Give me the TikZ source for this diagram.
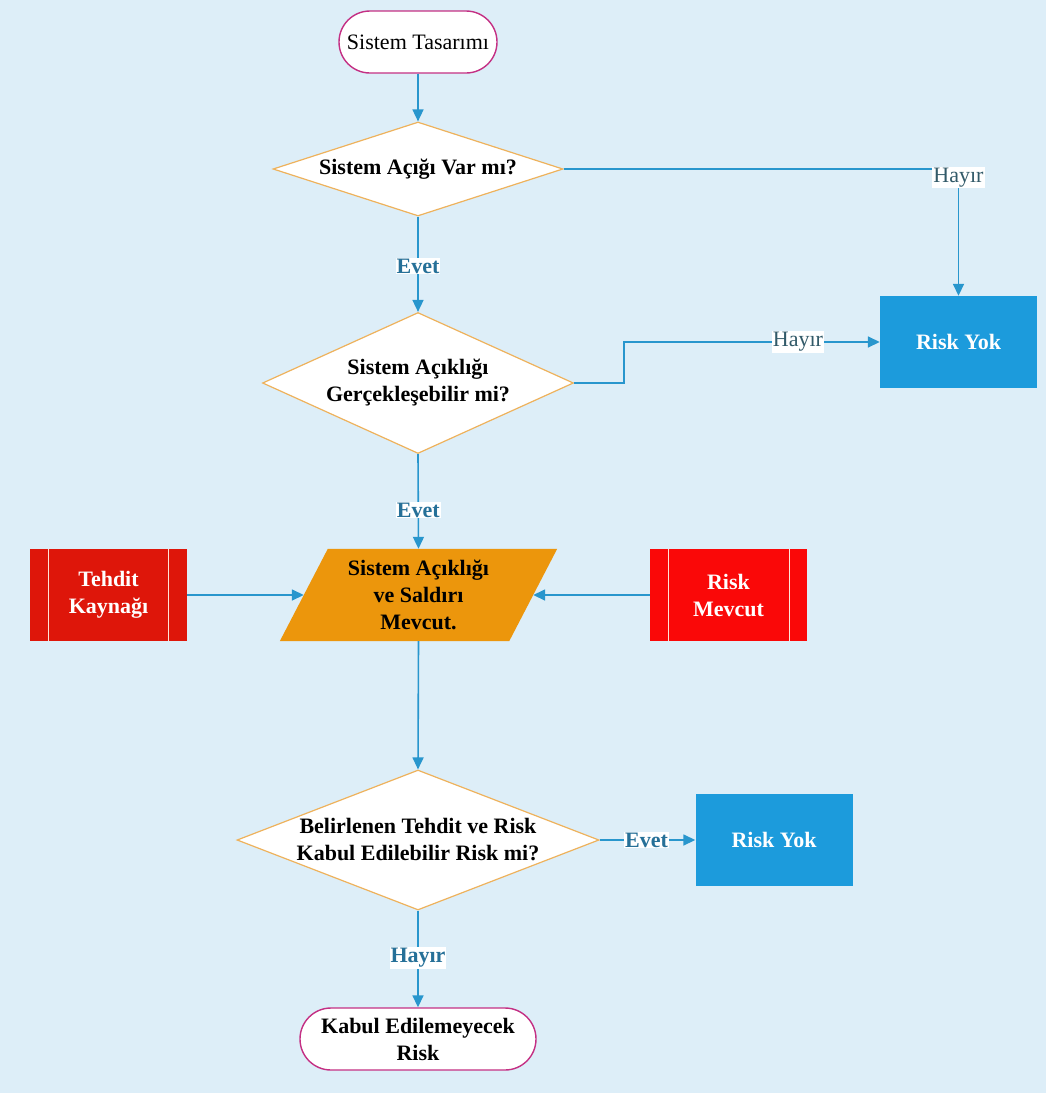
\documentclass[tikz,border=0pt]{standalone}
\usepackage{fontspec}
\setmainfont{Liberation Serif}
\usetikzlibrary{shapes.geometric,arrows.meta}
\pgfdeclarelayer{back}
\pgfdeclarelayer{mid}
\pgfsetlayers{back,mid,main}
\definecolor{bgblue}{RGB}{221,238,248}
\definecolor{conn}{RGB}{40,150,205}
\definecolor{lblboldc}{RGB}{38,112,152}
\definecolor{lblplainc}{RGB}{50,90,105}
\definecolor{diamedge}{RGB}{238,178,92}
\definecolor{termedge}{RGB}{196,48,132}
\definecolor{riskblue}{RGB}{28,155,220}
\definecolor{darkred}{RGB}{222,22,10}
\definecolor{brightred}{RGB}{250,8,8}
\definecolor{paraorange}{RGB}{236,150,12}
\definecolor{stripe}{RGB}{255,228,215}
\begin{document}
\begin{tikzpicture}[x=1pt,y=-1pt,
  fnt/.style={font=\fontsize{22}{27}\selectfont},
  fntb/.style={font=\fontsize{22}{27}\selectfont\bfseries},
  terminal/.style={rectangle, rounded corners=31pt, draw=termedge, line width=1.4pt, fill=white, inner sep=0pt, minimum height=62pt, align=center},
  decision/.style={fntb, diamond, draw=diamedge, line width=1.2pt, fill=white, inner sep=0pt, align=center},
  riskbox/.style={fntb, rectangle, fill=riskblue, text=white, minimum width=157pt, minimum height=92pt, align=center},
  redbox/.style={fntb, rectangle, text=white, minimum width=157pt, minimum height=92pt, align=center},
  parabody/.style={fntb, rectangle, minimum width=229pt, minimum height=92pt, inner sep=0pt, align=center},
  stripeline/.style={draw=stripe, line width=1.2pt},
  arr/.style={draw=conn, line width=1.6pt, -{Triangle[length=12pt,width=11pt]}},
  lblp/.style={fnt, fill=white, inner sep=1pt, text=lblplainc},
  lblb/.style={fntb, fill=white, inner sep=1pt, text=lblboldc}
]
\begin{pgfonlayer}{back}
  \fill[bgblue] (0,0) rectangle (1046,1093);
\end{pgfonlayer}
\useasboundingbox (0,0) rectangle (1046,1093);

% nodes
\node[terminal, fnt, minimum width=158pt] (start) at (418,42) {Sistem Tasarımı};
\node[decision, aspect=3.085, minimum width=290pt, minimum height=94pt] (d1) at (418,169) {Sistem Açığı Var mı?};
\node[riskbox] (ry1) at (958.5,342) {Risk Yok};
\node[decision, aspect=2.2, minimum width=311pt, minimum height=141pt] (d2) at (418,383) {Sistem Açıklığı\\Gerçekleşebilir mi?};
\node[parabody] (p) at (418.5,595) {Sistem Açıklığı\\ve Saldırı\\Mevcut.};
\node[redbox, fill=darkred] (tk) at (108.5,595) {Tehdit\\Kaynağı};
\node[redbox, fill=brightred] (rm) at (728.5,595) {Risk\\Mevcut};
\node[decision, aspect=2.59, minimum width=362pt, minimum height=140pt] (d3) at (418,840) {Belirlenen Tehdit ve Risk\\Kabul Edilebilir Risk mi?};
\node[riskbox] (ry2) at (774,840) {Risk Yok};
\node[terminal, fntb, minimum width=236pt] (end) at (418,1039) {Kabul Edilemeyecek\\Risk};

% parallelogram outline behind its text
\begin{pgfonlayer}{mid}
  \fill[paraorange] ([xshift=24pt]p.north west) -- ([xshift=24pt]p.north east)
    -- ([xshift=-24pt]p.south east) -- ([xshift=-24pt]p.south west) -- cycle;
\end{pgfonlayer}

% predefined-process stripes
\draw[stripeline] ([xshift=19pt]tk.north west) -- ([xshift=19pt]tk.south west);
\draw[stripeline] ([xshift=-19pt]tk.north east) -- ([xshift=-19pt]tk.south east);
\draw[stripeline] ([xshift=19pt]rm.north west) -- ([xshift=19pt]rm.south west);
\draw[stripeline] ([xshift=-18pt]rm.north east) -- ([xshift=-18pt]rm.south east);

% connectors
\draw[arr] (start.south) -- (d1.north);
\draw[arr] (d1.east) -| node[lblp, pos=0.535] {Hayır} (ry1.north);
\draw[arr] (d1.south) -- node[lblb, pos=0.52] {Evet} (d2.north);
\draw[arr] (d2.east) -- ++(50,0) |- node[lblp, pos=0.84] {Hayır} (ry1.west);
\draw[arr] (d2.south) -- node[lblb, pos=0.59] {Evet} (p.north);
\draw[arr] (tk.east) -- (p.west);
\draw[arr] (rm.west) -- (p.east);
\draw[arr] (p.south) -- (d3.north);
\draw[arr] (d3.east) -- node[lblb, pos=0.49] {Evet} (ry2.west);
\draw[arr] (d3.south) -- node[lblb, pos=0.49] {Hayır} (end.north);
\end{tikzpicture}
\end{document}
